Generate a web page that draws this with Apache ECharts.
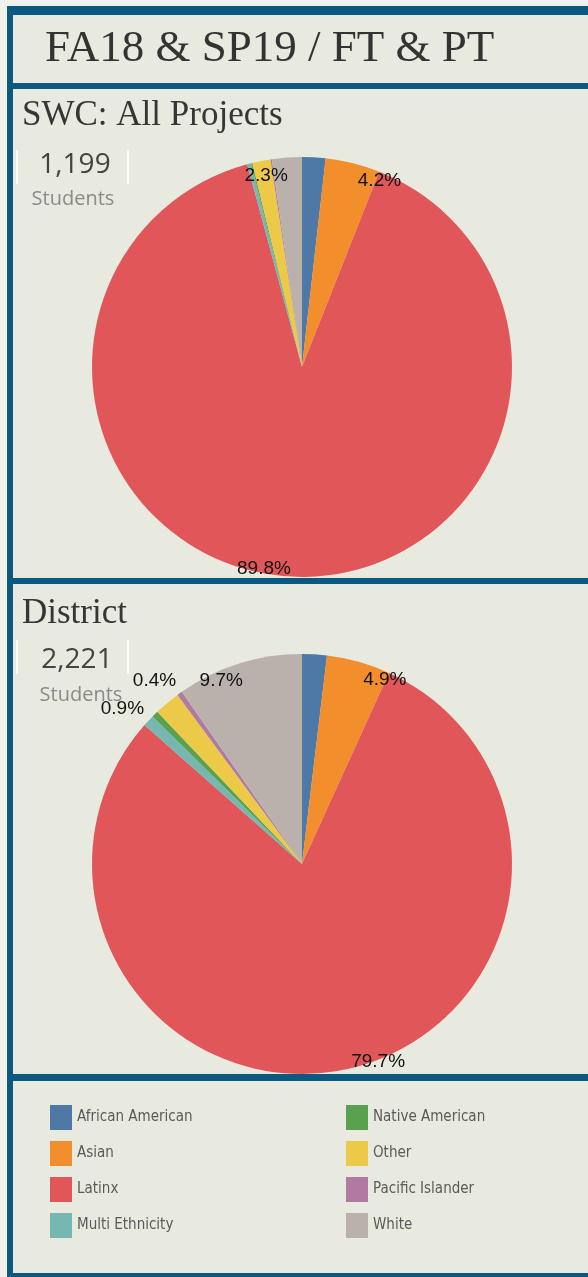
<!DOCTYPE html>
<html>
<head>
<meta charset="utf-8">
<script src="https://cdn.jsdelivr.net/npm/echarts@6/dist/echarts.min.js"></script>
<style>
  html, body { margin: 0; padding: 0; background: #f0f1ec; }
  #main { width: 588px; height: 1277px; }
</style>
</head>
<body>
<div id="main"></div>
<script>
// ethnicity breakdown, percent of students
var categories = ['African American', 'Asian', 'Latinx', 'Multi Ethnicity',
                  'Native American', 'Other', 'Pacific Islander', 'White'];
var colors = ['#4e79a7', '#f28e2b', '#e15759', '#76b7b2',
              '#59a14f', '#edc948', '#b07aa1', '#bab0ac'];
var swcValues      = [1.8, 4.2, 89.8, 0.3, 0.1, 1.4, 0.1, 2.3];
var districtValues = [1.9, 4.9, 79.7, 0.9, 0.5, 2.0, 0.4, 9.7];

// which slices get a label (inside near the rim / outside the pie)
var swcInner = ['Asian', 'Latinx', 'White'];
var swcOuter = [];
var districtInner = ['Asian', 'Latinx', 'White'];
var districtOuter = ['Multi Ethnicity', 'Pacific Islander'];

var panelTitles = ['SWC: All Projects', 'District'];
var headcounts = ['1,199', '2,221'];

var bg = '#e8e9df';
var frame = '#0b5880';
var serif = "'Liberation Serif', 'DejaVu Serif', serif";
var sans = "'Open Sans', 'Liberation Sans', sans-serif";
var narrow = "'Liberation Sans Narrow', 'DejaVu Sans Condensed', sans-serif";

var chart = echarts.init(document.getElementById('main'));

function pct(p) { return p.value.toFixed(1) + '%'; }

function pieData(values, shown) {
  return categories.map(function (name, i) {
    return { name: name, value: values[i], label: { show: shown.indexOf(name) >= 0 } };
  });
}

var labelText = { color: '#111111', fontSize: 19, fontFamily: "'Liberation Sans', sans-serif",
                  distanceToLabelLine: 4 };

function piePair(center, values, inner, outer) {
  return [{
    type: 'pie',
    radius: 210,
    center: center,
    startAngle: 90,
    avoidLabelOverlap: false,
    emphasis: { scale: false },
    data: pieData(values, outer),
    label: Object.assign({ position: 'outside', formatter: pct }, labelText),
    labelLine: { show: false, length: 6, length2: 0 },
    labelLayout: { dx: 4, dy: -8 }
  }, {
    // thin invisible ring, only carries the rim labels
    type: 'pie',
    radius: [194, 196],
    center: center,
    startAngle: 90,
    silent: true,
    avoidLabelOverlap: false,
    itemStyle: { color: 'rgba(0,0,0,0)' },
    data: pieData(values, inner),
    label: Object.assign({ position: 'outside', formatter: pct }, labelText),
    labelLine: { show: false, length: 1, length2: 0 },
    labelLayout: { dx: 4, dy: 5 }
  }];
}

function rect(x, y, w, h, fill) {
  return { type: 'rect', z: 0, shape: { x: x, y: y, width: w, height: h }, style: { fill: fill } };
}
function text(str, x, y, font, fill, align) {
  return { type: 'text', z: 10, x: x, y: y,
           style: { text: str, font: font, fill: fill, align: align || 'left', verticalAlign: 'middle' } };
}
function line(x, y1, y2) {
  return { type: 'line', z: 1, shape: { x1: x, y1: y1, x2: x, y2: y2 },
           style: { stroke: 'rgba(255,255,255,0.85)', lineWidth: 2 } };
}

var legendBase = {
  orient: 'vertical', top: 1100, icon: 'rect', itemWidth: 22, itemHeight: 25, itemGap: 11,
  selectedMode: false,
  textStyle: { color: '#5a5a5a', fontSize: 15, fontFamily: narrow }
};

chart.setOption({
  backgroundColor: '#f0f1ec',
  color: colors,
  animation: false,
  legend: [
    Object.assign({ left: 45, data: categories.slice(0, 4) }, legendBase),
    Object.assign({ left: 341, data: categories.slice(4) }, legendBase)
  ],
  graphic: [
    rect(7, 6, 600, 1275, frame),
    rect(13, 15, 600, 68, bg),
    rect(13, 89, 600, 489, bg),
    rect(13, 584, 600, 490, bg),
    rect(13, 1081, 600, 192, bg),
    text('FA18 & SP19 / FT & PT', 45, 49, '45px ' + serif, '#333333'),
    text(panelTitles[0], 22, 116, '35px ' + serif, '#363636'),
    text(panelTitles[1], 22, 614, '35px ' + serif, '#363636'),
    line(17, 150, 184), line(128, 150, 184),
    line(17, 640, 674), line(128, 640, 674),
    text(headcounts[0], 75, 165, '28px ' + sans, '#444444', 'center'),
    text('Students', 73, 199, '20px ' + sans, '#8a8a8a', 'center'),
    text(headcounts[1], 77, 660, '28px ' + sans, '#444444', 'center'),
    text('Students', 81, 695, '20px ' + sans, '#8a8a8a', 'center')
  ],
  series: piePair([302, 367], swcValues, swcInner, swcOuter)
    .concat(piePair([302, 864], districtValues, districtInner, districtOuter))
});
</script>
</body>
</html>
